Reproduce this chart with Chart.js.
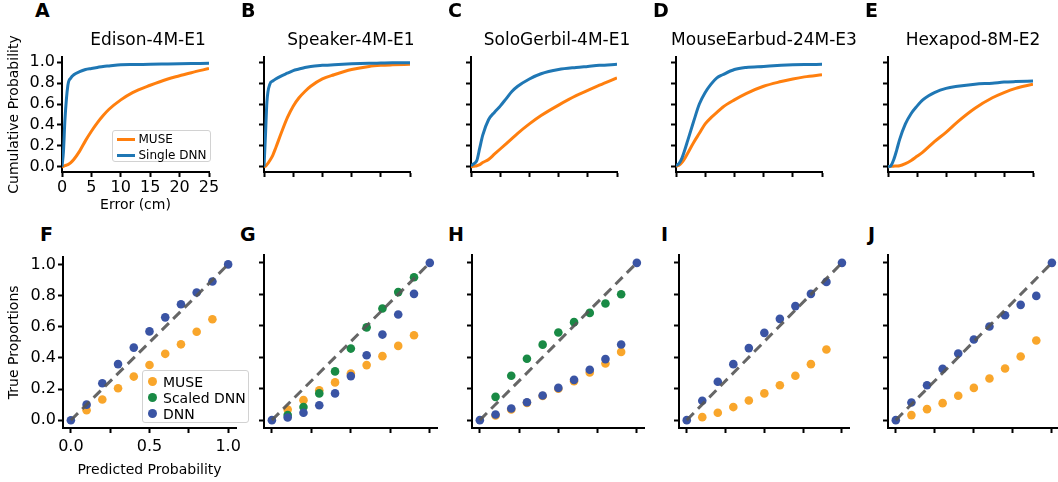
<!DOCTYPE html>
<html>
<head>
<meta charset="utf-8">
<script src="https://cdn.jsdelivr.net/npm/chart.js@4.4.0/dist/chart.umd.min.js"></script>
<style>
  html, body { margin: 0; padding: 0; background: #fff; }
  body { width: 1058px; height: 482px; position: relative; overflow: hidden; font-family: "DejaVu Sans", sans-serif; color: #000; }
  canvas { position: absolute; }
  .letter { position: absolute; font-weight: bold; font-size: 19px; line-height: 1; }
  .title { position: absolute; font-size: 17px; line-height: 1; white-space: nowrap; transform: translateX(-50%); }
  .legend { position: absolute; box-sizing: border-box; border: 1.5px solid #d2d2d2; border-radius: 3px; background: rgba(255,255,255,0.85); }
  .legend .row { display: flex; align-items: center; white-space: nowrap; }
</style>
</head>
<body>
<script>
// error distances (cm) where the CDFs are read
const errX = [0, 0.25, 0.5, 1, 1.5, 2, 3, 4, 5, 6, 7, 8, 10, 12, 15, 18, 20, 22, 25];

const edisonMuse = [0, 0.003, 0.01, 0.02, 0.04, 0.07, 0.15, 0.25, 0.34, 0.42, 0.49, 0.55, 0.64, 0.71, 0.78, 0.84, 0.87, 0.9, 0.94];
const edisonDnn  = [0, 0.15, 0.45, 0.78, 0.85, 0.88, 0.91, 0.93, 0.94, 0.95, 0.96, 0.965, 0.975, 0.978, 0.98, 0.983, 0.985, 0.987, 0.99];
const speakerMuse = [0, 0.005, 0.02, 0.06, 0.11, 0.18, 0.33, 0.47, 0.58, 0.66, 0.72, 0.77, 0.84, 0.88, 0.93, 0.96, 0.97, 0.975, 0.98];
const speakerDnn  = [0, 0.3, 0.62, 0.79, 0.82, 0.84, 0.87, 0.895, 0.92, 0.935, 0.95, 0.96, 0.97, 0.977, 0.985, 0.99, 0.992, 0.994, 0.995];
const gerbilMuse = [0, 0.002, 0.005, 0.01, 0.02, 0.04, 0.07, 0.12, 0.17, 0.22, 0.27, 0.32, 0.41, 0.49, 0.59, 0.68, 0.73, 0.78, 0.85];
const gerbilDnn  = [0.01, 0.02, 0.03, 0.06, 0.18, 0.3, 0.45, 0.52, 0.58, 0.65, 0.72, 0.77, 0.84, 0.89, 0.93, 0.95, 0.96, 0.97, 0.98];
const earbudMuse = [0, 0.01, 0.015, 0.04, 0.08, 0.13, 0.23, 0.32, 0.41, 0.47, 0.52, 0.57, 0.64, 0.7, 0.77, 0.815, 0.84, 0.86, 0.88];
const earbudDnn  = [0.01, 0.02, 0.03, 0.08, 0.16, 0.25, 0.43, 0.6, 0.71, 0.79, 0.85, 0.88, 0.93, 0.95, 0.96, 0.97, 0.975, 0.978, 0.98];
const hexapodMuse = [0, 0.002, 0.004, 0.006, 0.008, 0.01, 0.03, 0.06, 0.1, 0.14, 0.19, 0.24, 0.33, 0.43, 0.56, 0.66, 0.71, 0.75, 0.79];
const hexapodDnn  = [0, 0.003, 0.01, 0.07, 0.16, 0.26, 0.41, 0.51, 0.58, 0.64, 0.68, 0.71, 0.75, 0.77, 0.79, 0.8, 0.81, 0.815, 0.82];

// calibration: predicted probability vs true proportion
const predX = [0, 0.1, 0.2, 0.3, 0.4, 0.5, 0.6, 0.7, 0.8, 0.9, 1.0];
const midX = [0.1, 0.2, 0.3, 0.4, 0.5, 0.6, 0.7, 0.8, 0.9];
const edisonCalDnn  = [0, 0.10, 0.237, 0.36, 0.466, 0.57, 0.66, 0.744, 0.82, 0.89, 1.0];
const edisonCalMuse = [0.064, 0.133, 0.205, 0.28, 0.354, 0.426, 0.487, 0.568, 0.648];
const speakerCalDnn    = [0, 0.017, 0.047, 0.095, 0.17, 0.28, 0.413, 0.544, 0.672, 0.803, 1.0];
const speakerCalMuse   = [0.068, 0.127, 0.19, 0.24, 0.297, 0.35, 0.407, 0.472, 0.54];
const speakerCalScaled = [0.032, 0.083, 0.17, 0.31, 0.455, 0.59, 0.71, 0.814, 0.909];
const gerbilCalDnn    = [0, 0.036, 0.074, 0.114, 0.157, 0.205, 0.256, 0.32, 0.388, 0.481, 1.0];
const gerbilCalMuse   = [0.03, 0.068, 0.11, 0.153, 0.2, 0.248, 0.303, 0.36, 0.434];
const gerbilCalScaled = [0.148, 0.282, 0.39, 0.48, 0.557, 0.623, 0.682, 0.742, 0.80];
const earbudCalDnn  = [0, 0.123, 0.244, 0.356, 0.458, 0.555, 0.644, 0.725, 0.803, 0.879, 1.0];
const earbudCalMuse = [0.019, 0.047, 0.083, 0.125, 0.17, 0.222, 0.282, 0.356, 0.449];
const hexapodCalDnn  = [0, 0.112, 0.222, 0.326, 0.424, 0.513, 0.595, 0.667, 0.733, 0.79, 1.0];
const hexapodCalMuse = [0.032, 0.07, 0.108, 0.155, 0.205, 0.265, 0.328, 0.405, 0.506];

const probTicks = [0, 0.2, 0.4, 0.6, 0.8, 1.0];
const errTicks = [0, 5, 10, 15, 20, 25];
const predTicks = [0, 0.25, 0.5, 0.75, 1.0];
const predLabels = [0, 0.5, 1.0];

const cdfColors = { muse: '#ff7f0e', dnn: '#1f77b4' };
const calColors = { muse: '#f9a62b', scaled: '#198a45', dnn: '#3a54a4' };

Chart.defaults.font.family = "'DejaVu Sans', sans-serif";
Chart.defaults.color = '#000';
Chart.defaults.animation = false;

const pts = (xs, ys) => ys.map((y, i) => ({ x: xs[i], y: y }));

function makeCanvas(box, padL, padT, padR, padB) {
  const c = document.createElement('canvas');
  const w = box[2] - box[0] + padL + padR;
  const h = box[3] - box[1] + padT + padB;
  c.width = w; c.height = h;
  c.style.left = (box[0] - padL) + 'px';
  c.style.top = (box[1] - padT) + 'px';
  c.style.width = w + 'px';
  c.style.height = h + 'px';
  document.body.appendChild(c);
  return c;
}

function axis(tickVals, min, max, o) {
  return {
    type: 'linear', min: min, max: max,
    afterBuildTicks: a => { a.ticks = tickVals.map(v => ({ value: v })); },
    afterFit: a => { if (a.isHorizontal()) a.height = o.size; else a.width = o.size; },
    border: { display: true, color: '#000', width: 2 },
    grid: { display: true, drawOnChartArea: false, drawTicks: true, tickLength: 5, tickWidth: 2, tickColor: '#000' },
    ticks: { display: !!o.labels, padding: o.pad || 3, font: { size: 16 }, color: '#000', autoSkip: false, maxRotation: 0, callback: o.fmt },
    title: { display: !!o.title, text: o.title || '', font: { size: 14 }, color: '#000', padding: o.titlePad || 4 }
  };
}

function addText(cls, text, left, top) {
  const d = document.createElement('div');
  d.className = cls;
  d.textContent = text;
  d.style.left = left + 'px';
  d.style.top = top + 'px';
  document.body.appendChild(d);
}

// ---- top row: cumulative error distributions ----
const topPanels = [
  { letter: 'A', lx: 35, title: 'Edison-4M-E1', tx: 148, muse: edisonMuse, dnn: edisonDnn, box: [62, 57, 209, 172], labels: true },
  { letter: 'B', lx: 241, title: 'Speaker-4M-E1', tx: 351, muse: speakerMuse, dnn: speakerDnn, box: [264, 57, 410, 172] },
  { letter: 'C', lx: 448, title: 'SoloGerbil-4M-E1', tx: 557, muse: gerbilMuse, dnn: gerbilDnn, box: [471, 57, 617, 172] },
  { letter: 'D', lx: 653, title: 'MouseEarbud-24M-E3', tx: 764, muse: earbudMuse, dnn: earbudDnn, box: [676, 57, 822, 172] },
  { letter: 'E', lx: 865, title: 'Hexapod-8M-E2', tx: 973, muse: hexapodMuse, dnn: hexapodDnn, box: [888, 57, 1033, 172] }
];

topPanels.forEach(p => {
  const padL = p.labels ? p.box[0] : 6;
  const padB = p.labels ? 46 : 8;
  const padR = p.labels ? 12 : 4;
  const padT = p.labels ? 32 : 10;
  const c = makeCanvas(p.box, padL, padT, padR, padB);
  new Chart(c.getContext('2d'), {
    type: 'line',
    data: {
      datasets: [
        { label: 'Single DNN', data: pts(errX, p.dnn), borderColor: cdfColors.dnn, borderWidth: 3, pointRadius: 0, cubicInterpolationMode: 'monotone', order: 0 },
        { label: 'MUSE', data: pts(errX, p.muse), borderColor: cdfColors.muse, borderWidth: 3, pointRadius: 0, cubicInterpolationMode: 'monotone', order: 1 }
      ]
    },
    options: {
      responsive: false,
      maintainAspectRatio: false,
      layout: { padding: { left: 0, top: padT, right: padR, bottom: 0 } },
      plugins: { legend: { display: false }, tooltip: { enabled: false } },
      scales: {
        x: axis(errTicks, 0, 25, { size: padB, labels: p.labels, pad: 1, fmt: v => String(v), title: p.labels ? 'Error (cm)' : '' }),
        y: axis(probTicks, -0.05, 1.05, { size: padL, labels: p.labels, pad: 2, fmt: v => v.toFixed(1), title: p.labels ? 'Cumulative Probability' : '', titlePad: { top: 5.5, bottom: 4 } })
      }
    }
  });
  addText('letter', p.letter, p.lx, 1);
  addText('title', p.title, p.tx, 31);
});

// ---- bottom row: calibration ----
const botPanels = [
  { letter: 'F', lx: 40, muse: edisonCalMuse, dnn: edisonCalDnn, scaled: [], box: [63, 255, 236, 428], labels: true },
  { letter: 'G', lx: 240, muse: speakerCalMuse, dnn: speakerCalDnn, scaled: speakerCalScaled, box: [264, 255, 438, 428] },
  { letter: 'H', lx: 448, muse: gerbilCalMuse, dnn: gerbilCalDnn, scaled: gerbilCalScaled, box: [472, 255, 645, 428] },
  { letter: 'I', lx: 661, muse: earbudCalMuse, dnn: earbudCalDnn, scaled: [], box: [679, 255, 850, 428] },
  { letter: 'J', lx: 868, muse: hexapodCalMuse, dnn: hexapodCalDnn, scaled: [], box: [888, 255, 1060, 428] }
];

botPanels.forEach(p => {
  const padL = p.labels ? p.box[0] : 6;
  const padB = p.labels ? 55 : 8;
  const padR = p.labels ? 12 : 4;
  const c = makeCanvas(p.box, padL, 10, padR, padB);
  const dot = (label, data, color, order) => ({ label: label, data: data, backgroundColor: color, borderWidth: 0, pointRadius: 4.3, pointHoverRadius: 4.3, order: order });
  new Chart(c.getContext('2d'), {
    type: 'scatter',
    data: {
      datasets: [
        { label: 'ideal', data: [{ x: 0, y: 0 }, { x: 1, y: 1 }], showLine: true, borderColor: 'rgba(85,85,85,0.9)', borderWidth: 3, borderDash: [10, 6], pointRadius: 0, order: 0 },
        dot('DNN', pts(predX, p.dnn), calColors.dnn, 1),
        dot('Scaled DNN', pts(midX, p.scaled), calColors.scaled, 2),
        dot('MUSE', pts(midX, p.muse), calColors.muse, 3)
      ]
    },
    options: {
      responsive: false,
      maintainAspectRatio: false,
      layout: { padding: { left: 0, top: 10, right: padR, bottom: 0 } },
      plugins: { legend: { display: false }, tooltip: { enabled: false } },
      scales: {
        x: axis(predTicks, -0.05, 1.05, { size: padB, labels: p.labels, pad: 4, fmt: v => predLabels.includes(v) ? v.toFixed(1) : '', title: p.labels ? 'Predicted Probability' : '' }),
        y: axis(probTicks, -0.05, 1.05, { size: padL, labels: p.labels, pad: 2, fmt: v => v.toFixed(1), title: p.labels ? 'True Proportions' : '', titlePad: { top: 5.5, bottom: 4 } })
      }
    }
  });
  addText('letter', p.letter, p.lx, 224.5);
});

// ---- legends ----
function addLegend(left, top, width, height, padTop, rowH, fontSize, items) {
  const box = document.createElement('div');
  box.className = 'legend';
  Object.assign(box.style, { left: left + 'px', top: top + 'px', width: width + 'px', height: height + 'px', paddingTop: padTop + 'px' });
  items.forEach(it => {
    const row = document.createElement('div');
    row.className = 'row';
    row.style.height = rowH + 'px';
    row.style.fontSize = fontSize + 'px';
    const mark = document.createElement('span');
    if (it.kind === 'line') {
      Object.assign(mark.style, { display: 'inline-block', width: '18px', height: '3px', background: it.color, marginLeft: '4px', marginRight: '4px' });
    } else {
      Object.assign(mark.style, { display: 'inline-block', width: '9px', height: '9px', borderRadius: '50%', background: it.color, marginLeft: '5px', marginRight: '6px' });
    }
    row.appendChild(mark);
    row.appendChild(document.createTextNode(it.label));
    box.appendChild(row);
  });
  document.body.appendChild(box);
}

addLegend(111.5, 130, 99, 32, 0, 16, 12, [
  { kind: 'line', label: 'MUSE', color: cdfColors.muse },
  { kind: 'line', label: 'Single DNN', color: cdfColors.dnn }
]);
addLegend(142, 370, 107, 53, 2.5, 16.2, 14, [
  { kind: 'dot', label: 'MUSE', color: calColors.muse },
  { kind: 'dot', label: 'Scaled DNN', color: calColors.scaled },
  { kind: 'dot', label: 'DNN', color: calColors.dnn }
]);
</script>
</body>
</html>
